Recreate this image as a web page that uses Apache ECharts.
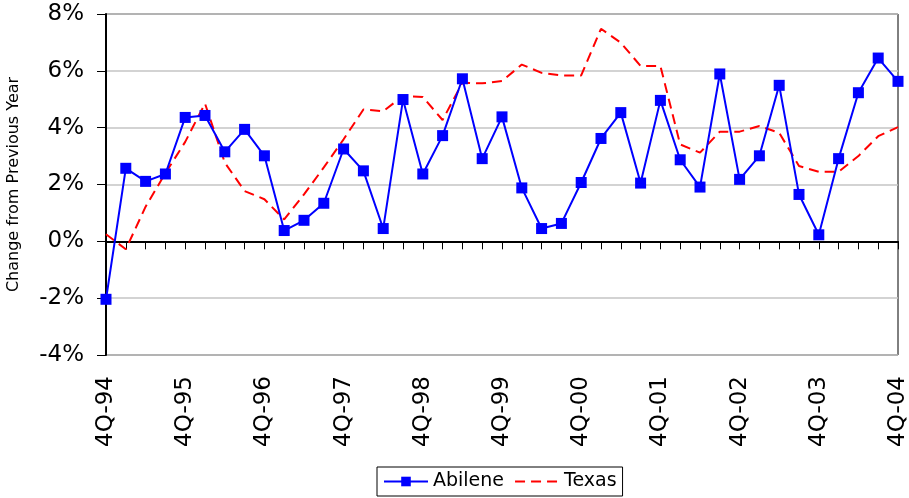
<!DOCTYPE html>
<html>
<head>
<meta charset="utf-8">
<script src="https://cdn.jsdelivr.net/npm/echarts@6/dist/echarts.min.js"></script>
<style>
  html, body { margin: 0; padding: 0; background: #fff; }
  #chart { width: 909px; height: 498px; }
</style>
</head>
<body>
<div id="chart"></div>
<script>
// quarters, 4Q-94 .. 4Q-04
const quarters = [
  '4Q-94', '1Q-95', '2Q-95', '3Q-95', '4Q-95', '1Q-96', '2Q-96', '3Q-96', '4Q-96',
  '1Q-97', '2Q-97', '3Q-97', '4Q-97', '1Q-98', '2Q-98', '3Q-98', '4Q-98',
  '1Q-99', '2Q-99', '3Q-99', '4Q-99', '1Q-00', '2Q-00', '3Q-00', '4Q-00',
  '1Q-01', '2Q-01', '3Q-01', '4Q-01', '1Q-02', '2Q-02', '3Q-02', '4Q-02',
  '1Q-03', '2Q-03', '3Q-03', '4Q-03', '1Q-04', '2Q-04', '3Q-04', '4Q-04',
];

// change from previous year, %
const abilene = [
  -2.04, 2.57, 2.11, 2.37, 4.36, 4.43, 3.15, 3.94, 3.01,
  0.38, 0.74, 1.34, 3.25, 2.48, 0.45, 4.99, 2.37,
  3.72, 5.72, 2.91, 4.38, 1.88, 0.45, 0.63, 2.07,
  3.62, 4.53, 2.05, 4.96, 2.87, 1.91, 5.89, 2.18,
  3.01, 5.49, 1.65, 0.23, 2.91, 5.23, 6.45, 5.63,
];

const texas = [
  0.25, -0.28, 1.22, 2.4, 3.5, 4.85, 2.77, 1.77, 1.48,
  0.77, 1.65, 2.6, 3.59, 4.64, 4.58, 5.11, 5.08,
  4.27, 5.58, 5.56, 5.64, 6.22, 5.93, 5.84, 5.84,
  7.48, 6.99, 6.17, 6.17, 3.41, 3.12, 3.86, 3.86,
  4.06, 3.82, 2.65, 2.45, 2.45, 3.0, 3.7, 4.02,
];

const chart = echarts.init(document.getElementById('chart'));

const option = {
  animation: false,
  backgroundColor: '#fff',
  textStyle: { fontFamily: 'DejaVu Sans' },
  grid: {
    left: 106,
    right: 11,
    top: 14,
    bottom: 143,
    outerBoundsMode: 'none',
    show: true,
    borderColor: '#000',
    borderWidth: 1,
  },
  legend: {
    left: 377,
    top: 467,
    itemWidth: 44,
    itemHeight: 12,
    itemGap: 10,
    padding: [5, 6, 5, 6],
    borderColor: '#000',
    borderWidth: 1,
    textStyle: { fontSize: 19, color: '#000', fontFamily: 'DejaVu Sans' },
    data: [
      { name: 'Abilene' },
      { name: 'Texas', itemStyle: { opacity: 0 } },
    ],
  },
  xAxis: {
    type: 'category',
    boundaryGap: false,
    data: quarters,
    axisLine: { lineStyle: { color: '#000', width: 2 } },
    axisTick: { interval: 0, length: 8, lineStyle: { color: '#000', width: 1 } },
    axisLabel: {
      interval: 3,
      rotate: 90,
      margin: 21,
      fontSize: 23,
      color: '#000',
    },
    splitLine: { show: false },
  },
  yAxis: {
    type: 'value',
    min: -4,
    max: 8,
    interval: 2,
    name: 'Change from Previous Year',
    nameLocation: 'middle',
    nameGap: 84,
    nameTextStyle: { fontSize: 16, color: '#000' },
    axisLine: { show: true, lineStyle: { color: '#000', width: 2 } },
    axisTick: { show: true, length: 9, lineStyle: { color: '#000' } },
    axisLabel: {
      formatter: '{value}%',
      fontSize: 23,
      color: '#000',
      margin: 22,
    },
    splitLine: { lineStyle: { color: '#c4c4c4', width: 1.5 } },
  },
  series: [
    {
      name: 'Abilene',
      type: 'line',
      data: abilene,
      symbol: 'rect',
      symbolSize: 11,
      showSymbol: true,
      itemStyle: { color: '#0000ff' },
      lineStyle: { color: '#0000ff', width: 2 },
      z: 3,
    },
    {
      name: 'Texas',
      type: 'line',
      data: texas,
      symbol: 'none',
      itemStyle: { color: '#ff0000' },
      lineStyle: { color: '#ff0000', width: 2, type: [10, 6] },
      z: 2,
    },
  ],
};

chart.setOption(option);
</script>
</body>
</html>
